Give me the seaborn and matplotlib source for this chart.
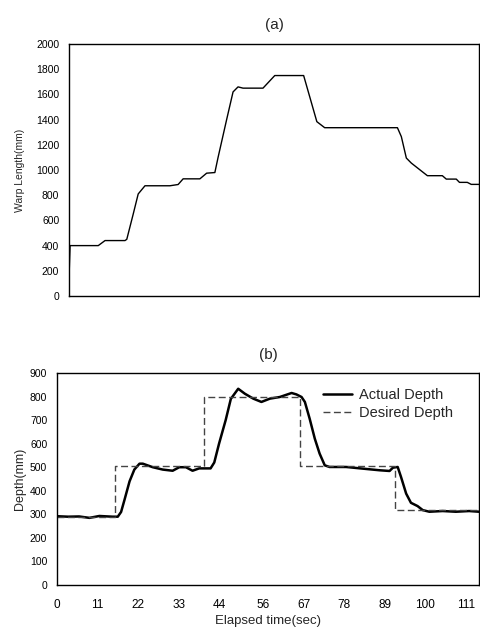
import matplotlib
matplotlib.use('Agg')
import seaborn as sns
import matplotlib.pyplot as plt
import numpy as np
import pandas as pd

# (a) warp length vs time
warp_t = [0, 0.3, 8.2, 10.1, 15.7, 16.2, 18.0, 19.4, 21.3, 28.3,
          30.6, 32.0, 36.7, 38.6, 40.9, 41.8, 44.2, 46.0, 47.4, 48.8,
          54.4, 57.7, 65.8, 67.5, 69.5, 71.7, 92.1, 93.2, 94.6, 96.0,
          100.5, 104.7, 105.8, 108.6, 109.5, 111.7, 112.8, 115]
warp_len = [150, 400, 400, 440, 440, 450, 650, 810, 875, 875,
            885, 930, 930, 975, 980, 1100, 1400, 1620, 1660, 1650,
            1650, 1750, 1750, 1582, 1384, 1336, 1336, 1265, 1095, 1055,
            955, 955, 928, 928, 902, 902, 886, 886]

# (b) actual and desired depth
act_t = [0, 3, 6, 8.8, 11.5, 15.1, 16.5, 17.4, 18.3, 19.7,
         21.0, 22.4, 23.3, 26.0, 28.7, 31.4, 33.2, 35.0, 36.8, 38.6,
         41.7, 42.7, 44.0, 45.8, 47.2, 49.2, 51.0, 53.3, 55.5, 57.8,
         60.5, 63.7, 65.0, 66.4, 67.3, 68.6, 70.0, 71.3, 72.7, 74.0,
         78.5, 83.0, 87.6, 90.3, 91.2, 92.5, 93.4, 94.8, 96.1, 97.9,
         99.3, 101.1, 104.7, 108.3, 111.9, 114.6]
act_d = [292, 290, 291, 285, 293, 290, 290, 310, 360, 440,
         490, 515, 515, 500, 490, 485, 500, 500, 485, 495,
         495, 520, 600, 700, 790, 833, 812, 791, 777, 791,
         798, 815, 809, 798, 777, 706, 621, 558, 508, 501,
         501, 494, 487, 484, 498, 501, 459, 388, 349, 335,
         318, 311, 314, 311, 314, 311]
des_t = [0, 15.8, 39.9, 66.1, 91.8, 114.6]
des_d = [290, 505, 800, 505, 320, 320]

x_ticks = [0, 11, 22, 33, 44, 56, 67, 78, 89, 100, 111]

sns.set_style('white')
plt.rcParams['font.family'] = ['Liberation Sans', 'DejaVu Sans']

fig = plt.figure(figsize=(4.81, 6.33), dpi=100)
ax1 = fig.add_axes([0.1435, 0.5324, 0.8525, 0.398])
ax2 = fig.add_axes([0.1185, 0.0758, 0.8775, 0.335])

df_a = pd.DataFrame({'t': warp_t, 'len': warp_len})
sns.lineplot(x='t', y='len', data=df_a, ax=ax1, color='black',
             linewidth=1.0, estimator=None, sort=False)
ax1.set_xlim(0, 115)
ax1.set_ylim(0, 2000)
ax1.set_yticks(range(0, 2001, 200))
ax1.set_xticks([11 * i for i in range(1, 11)])
ax1.set_xticklabels([])
ax1.set_xlabel('')
ax1.set_ylabel('Warp Length(mm)', fontsize=7.5, labelpad=8)
ax1.set_title('(a)', fontsize=11, pad=11)

df_act = pd.DataFrame({'t': act_t, 'd': act_d})
df_des = pd.DataFrame({'t': des_t, 'd': des_d})
sns.lineplot(x='t', y='d', data=df_act, ax=ax2, color='black',
             linewidth=1.8, estimator=None, sort=False, label='Actual Depth')
sns.lineplot(x='t', y='d', data=df_des, ax=ax2, color='#444444',
             linewidth=1.0, estimator=None, sort=False, drawstyle='steps-post',
             linestyle=(0, (5, 2.5)), label='Desired Depth')
ax2.set_xlim(0, 114.6)
ax2.set_ylim(0, 900)
ax2.set_yticks(range(0, 901, 100))
ax2.set_xticks(x_ticks)
ax2.set_xlabel('Elapsed time(sec)', fontsize=9.5, labelpad=3)
ax2.set_ylabel('Depth(mm)', fontsize=9, labelpad=3)
ax2.set_title('(b)', fontsize=11, pad=10)
ax2.legend(loc='upper left', bbox_to_anchor=(0.63, 0.93), frameon=False,
           fontsize=10.5, borderpad=0, borderaxespad=0, labelspacing=0.3,
           handlelength=2.0, handletextpad=0.5)

for ax in (ax1, ax2):
    for sp in ax.spines.values():
        sp.set_color('black')
        sp.set_linewidth(1.0)
        sp.set_visible(True)
    ax.tick_params(axis='x', direction='in', length=3, width=0.8,
                   colors='black', pad=10, labelsize=8.5)
    ax.tick_params(axis='y', length=0, pad=7, labelsize=7.5, colors='black')

fig.savefig('out.png', dpi=100)
